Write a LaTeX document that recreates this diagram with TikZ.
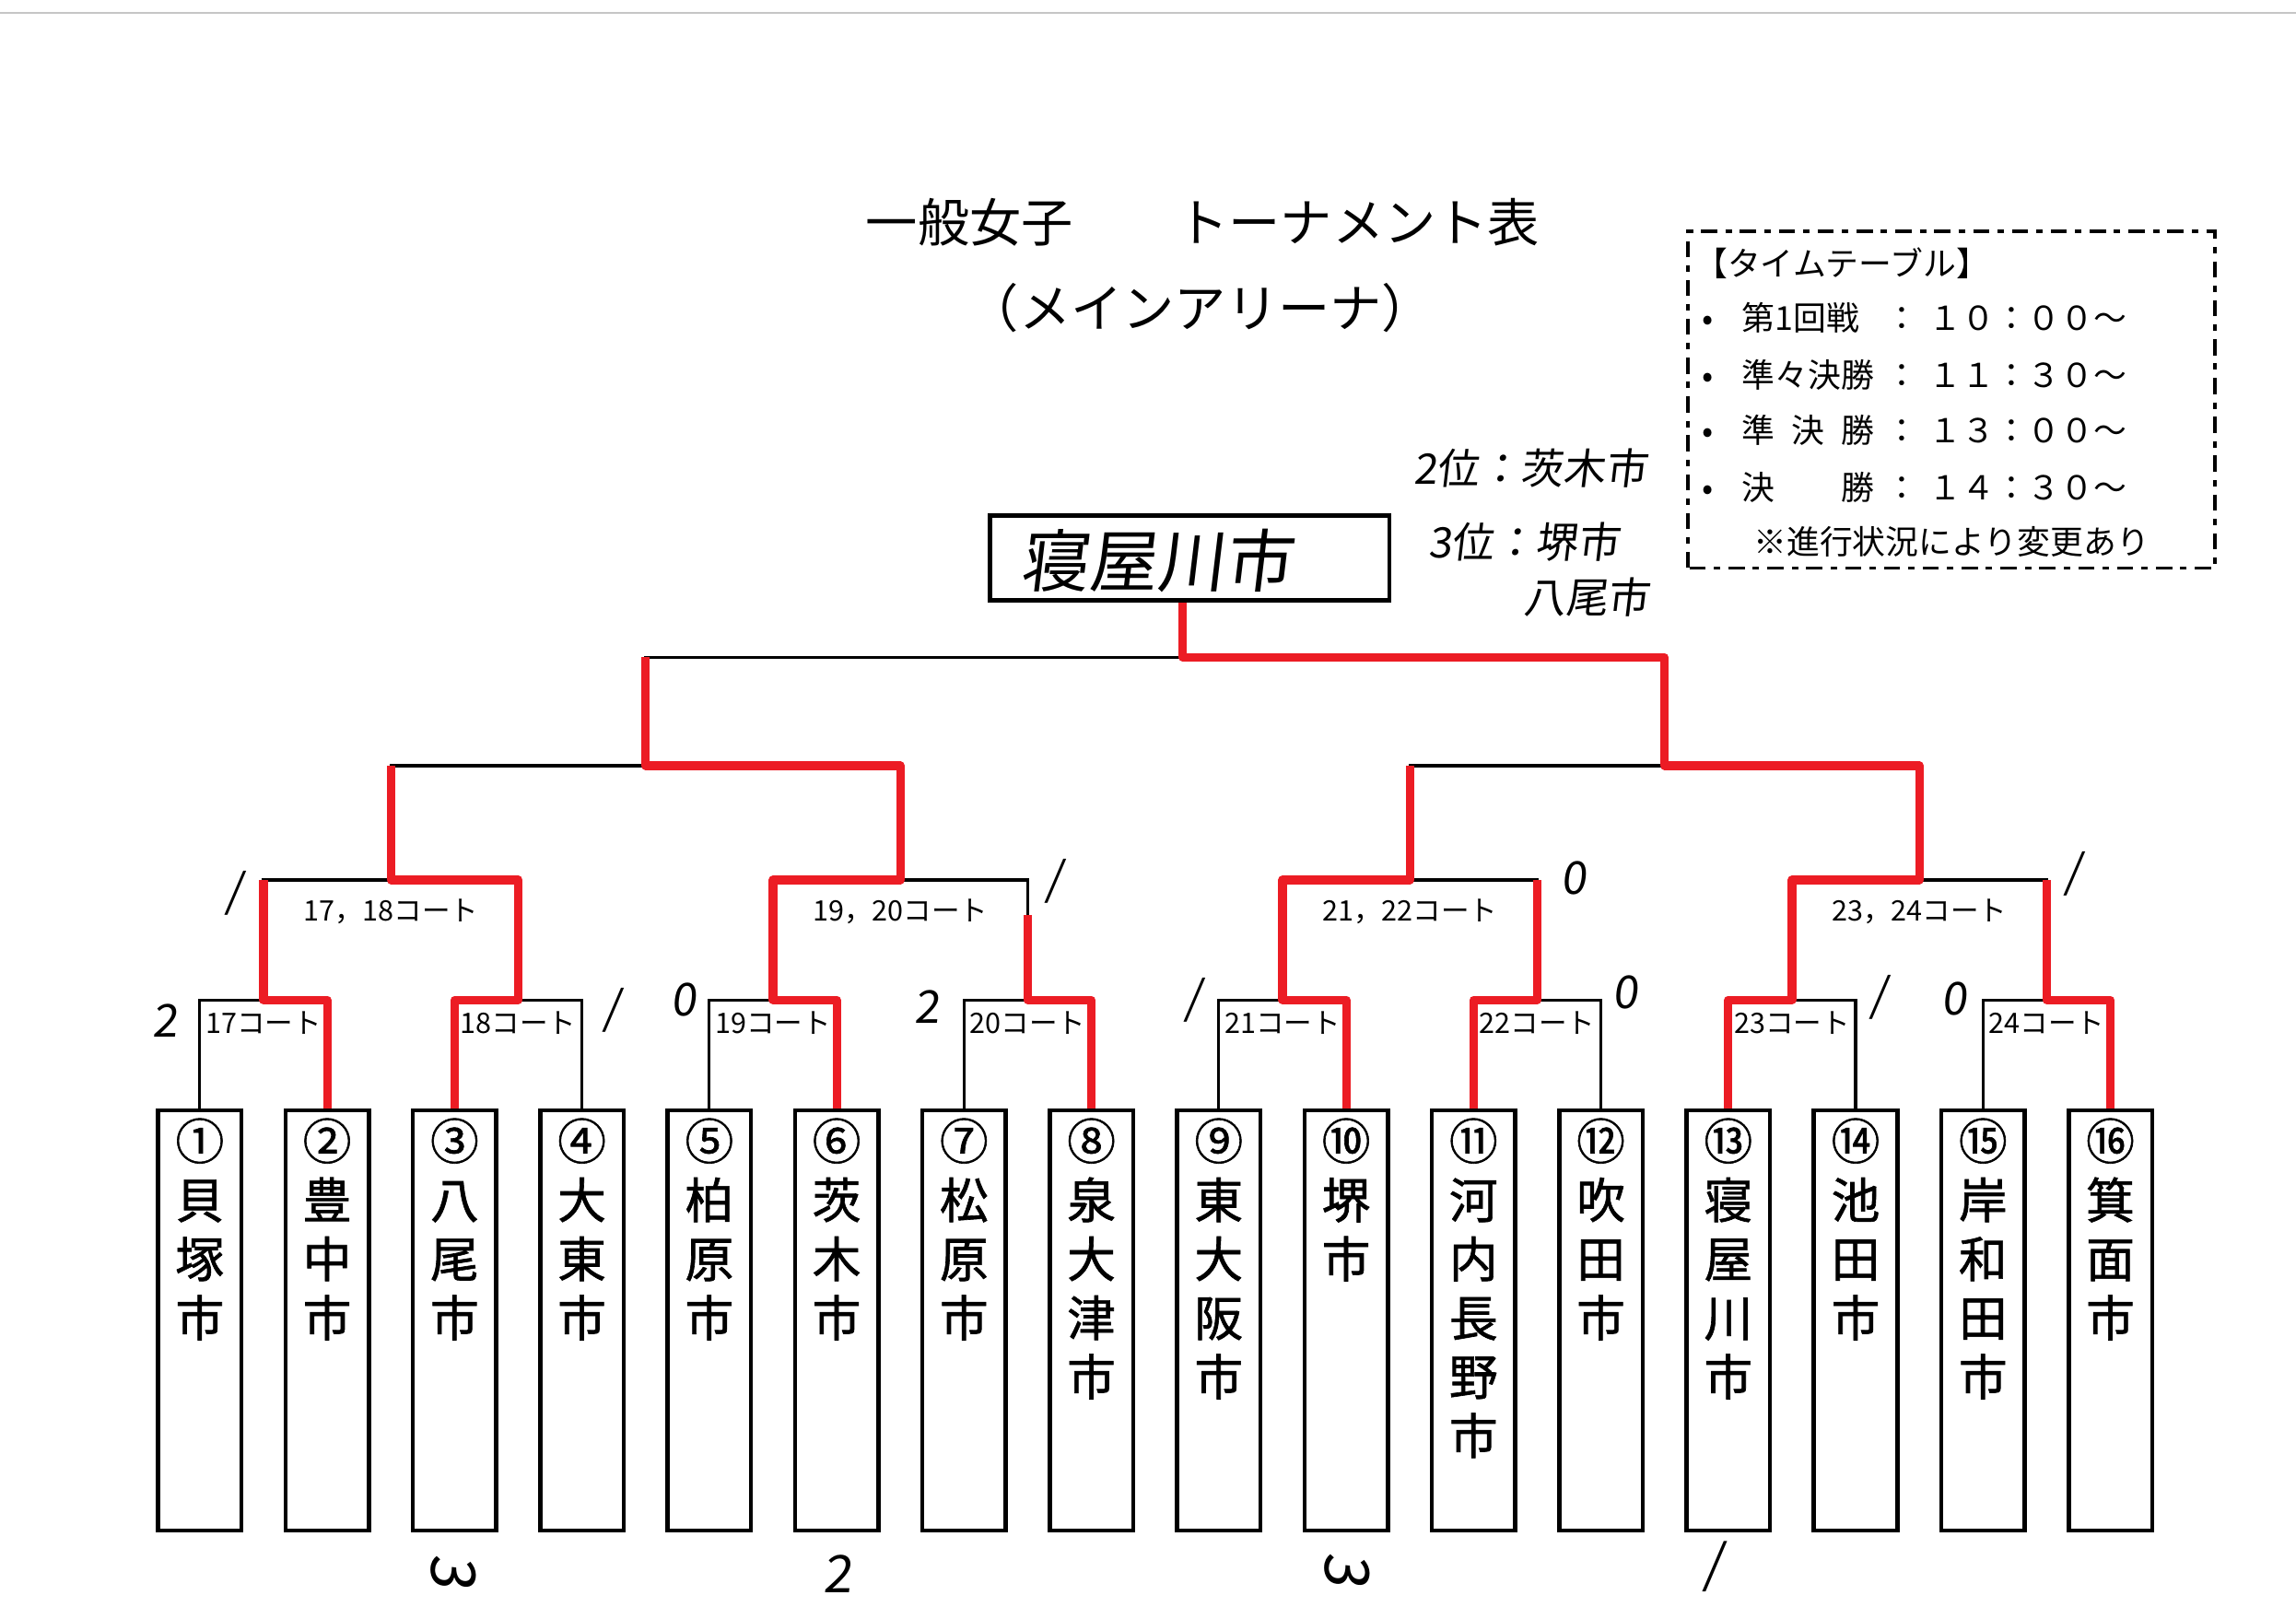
\documentclass[tikz,border=0pt]{standalone}
\usepackage{amsmath}
\usepackage{amssymb}
\usepackage{fontspec}
\setmainfont{Noto Sans CJK JP}
\newfontfamily\hand{Noto Sans CJK JP}[FakeSlant=0.12]
\newfontfamily\teamfont{Noto Sans CJK JP}[FakeBold=1.2]
\usetikzlibrary{positioning}
\definecolor{marker}{RGB}{236,28,36}

\tikzset{
    team/.style={draw, line width=1.3pt, minimum width=0.906cm, minimum height=4.56cm, anchor=north, inner sep=0pt},
    tname/.style={anchor=north, align=center, inner sep=0pt, yshift=-0.1cm, font=\teamfont\fontsize{15}{18.2}\selectfont},
    court/.style={inner sep=0pt, font=\fontsize{8.7}{9}\selectfont},
    score/.style={inner sep=0pt, font=\hand\fontsize{14}{14}\selectfont},
    hw/.style={inner sep=0pt, font=\hand\fontsize{13}{13}\selectfont},
    tt/.style={anchor=west, inner sep=0pt, font=\fontsize{10.2}{12}\selectfont},
    bline/.style={line width=0.9pt},
    win/.style={draw=marker, line width=2.6pt, line join=round, xshift=1.6pt, yshift=1.9pt},
}

\begin{document}
\begin{tikzpicture}
 %   \coordinate (final) at (12.839,10.295);
    \path[fill=white, use as bounding box] (0,0) rectangle (24.92,17.43);
    \draw[gray!45, line width=0.6pt] (0,17.287) -- (24.92,17.287);

    \node[font=\fontsize{16}{16}\selectfont,] (title) at (13.054,15.015) {一般女子　　トーナメント表};
    \node[font=\fontsize{16}{16}\selectfont,] (arena) at (13.030,14.093) {（メインアリーナ）};

    \draw[line width=1pt, dash pattern=on 5pt off 2.5pt on 2pt off 2.5pt] (18.321,11.265) rectangle (24.042,14.919);
    \node[tt,] (tthead) at (18.385,14.570) {【タイムテーブル】};
    \node[tt,] (tt1) at (18.470,13.982) {\makebox[1.2em][l]{•}\makebox[4.35em][l]{第1回戦}：\hspace{0.3em}１０：００～};
    \node[tt,] (tt2) at (18.470,13.362) {\makebox[1.2em][l]{•}\makebox[4.35em][l]{準々決勝}：\hspace{0.3em}１１：３０～};
    \node[tt,] (tt3) at (18.470,12.758) {\makebox[1.2em][l]{•}\makebox[4em][s]{準 決 勝}\hspace{0.35em}：\hspace{0.3em}１３：００～};
    \node[tt,] (tt4) at (18.470,12.139) {\makebox[1.2em][l]{•}\makebox[4.35em][l]{決　　勝}：\hspace{0.3em}１４：３０～};
    \node[tt,anchor=center,] (ttnote) at (21.181,11.551) {※進行状況により変更あり};

    \node[draw, line width=1.3pt, minimum width=4.338cm, minimum height=0.922cm,] (champ) at (12.911,11.376) {};
    \node[inner sep=0pt, font=\hand\fontsize{21}{21}\selectfont,] (champname) at (12.553,11.344) {寝屋川市};
    \node[hw,anchor=west,] (second) at (15.334,12.345) {2位：茨木市};
    \node[hw,anchor=west,] (third) at (15.493,11.551) {3位：堺市};
    \node[hw,anchor=west,] (thirdb) at (16.526,10.947) {八尾市};

    \node[team,label={[tname]north:{①\\貝\\塚\\市}},] (1) at (2.169,5.401) {};
    \node[team,label={[tname]north:{②\\豊\\中\\市}},] (2) at (3.551,5.401) {};
    \node[team,label={[tname]north:{③\\八\\尾\\市}},] (3) at (4.934,5.401) {};
    \node[team,label={[tname]north:{④\\大\\東\\市}},] (4) at (6.316,5.401) {};
    \node[team,label={[tname]north:{⑤\\柏\\原\\市}},] (5) at (7.699,5.401) {};
    \node[team,label={[tname]north:{⑥\\茨\\木\\市}},] (6) at (9.081,5.401) {};
    \node[team,label={[tname]north:{⑦\\松\\原\\市}},] (7) at (10.463,5.401) {};
    \node[team,label={[tname]north:{⑧\\泉\\大\\津\\市}},] (8) at (11.846,5.401) {};
    \node[team,label={[tname]north:{⑨\\東\\大\\阪\\市}},] (9) at (13.228,5.401) {};
    \node[team,label={[tname]north:{⑩\\堺\\市}},] (10) at (14.611,5.401) {};
    \node[team,label={[tname]north:{⑪\\河\\内\\長\\野\\市}},] (11) at (15.993,5.401) {};
    \node[team,label={[tname]north:{⑫\\吹\\田\\市}},] (12) at (17.375,5.401) {};
    \node[team,label={[tname]north:{⑬\\寝\\屋\\川\\市}},] (13) at (18.758,5.401) {};
    \node[team,label={[tname]north:{⑭\\池\\田\\市}},] (14) at (20.140,5.401) {};
    \node[team,label={[tname]north:{⑮\\岸\\和\\田\\市}},] (15) at (21.523,5.401) {};
    \node[team,label={[tname]north:{⑯\\箕\\面\\市}},] (16) at (22.905,5.401) {};

    \coordinate (17) at (2.860,6.577);
    \coordinate (18) at (5.625,6.577);
    \coordinate (19) at (8.390,6.577);
    \coordinate (20) at (11.155,6.577);
    \coordinate (21) at (13.920,6.577);
    \coordinate (22) at (16.684,6.577);
    \coordinate (23) at (19.449,6.577);
    \coordinate (24) at (22.214,6.577);
    \coordinate (1718) at (4.2425,7.880);
    \coordinate (1920) at (9.7725,7.880);
    \coordinate (2122) at (15.302,7.880);
    \coordinate (2324) at (20.8315,7.880);
    \coordinate (semiL) at (7.0075,9.120);
    \coordinate (semiR) at (18.067,9.120);
    \coordinate (final) at (12.839,10.295);

    \draw[bline] (1.north) |- (17) -| (2.north);
    \draw[bline] (3.north) |- (18) -| (4.north);
    \draw[bline] (5.north) |- (19) -| (6.north);
    \draw[bline] (7.north) |- (20) -| (8.north);
    \draw[bline] (9.north) |- (21) -| (10.north);
    \draw[bline] (11.north) |- (22) -| (12.north);
    \draw[bline] (13.north) |- (23) -| (14.north);
    \draw[bline] (15.north) |- (24) -| (16.north);
    \draw[bline] (17) |- (1718) -| (18);
    \draw[bline] (19) |- (1920) -| (20);
    \draw[bline] (21) |- (2122) -| (22);
    \draw[bline] (23) |- (2324) -| (24);
    \draw[bline] (1718) |- (semiL) -| (1920);
    \draw[bline] (2122) |- (semiR) -| (2324);
    \draw[bline] (semiL) |- (final) -| (semiR);
    \draw[bline] (champ.south -| final) -- (final);

    \draw[win] (2.north) |- (17) -- (17 |- 1718);
    \draw[win] (3.north) |- (18) |- (1718) -- (1718 |- semiL);
    \draw[win] (6.north) |- (19) |- (1920) |- (semiL) -- (semiL |- final);
    \draw[win, shorten >=0.38cm] (8.north) |- (20) -- (20 |- 1920);
    \draw[win] (10.north) |- (21) |- (2122) -- (2122 |- semiR);
    \draw[win] (11.north) |- (22) -- (22 |- 2122);
    \draw[win] (13.north) |- (23) |- (2324) |- (semiR) |- (final) -- (champ.south -| final);
    \draw[win] (16.north) |- (24) -- (24 |- 2324);

    \node[court, below=0.12cm of 17] (c17) {17コート};
    \node[court, below=0.12cm of 18] (c18) {18コート};
    \node[court, below=0.12cm of 19] (c19) {19コート};
    \node[court, below=0.12cm of 20] (c20) {20コート};
    \node[court, below=0.12cm of 21] (c21) {21コート};
    \node[court, below=0.12cm of 22] (c22) {22コート};
    \node[court, below=0.12cm of 23] (c23) {23コート};
    \node[court, below=0.12cm of 24] (c24) {24コート};
    \node[court, below=0.2cm of 1718] (c1718) {17，18コート};
    \node[court, below=0.2cm of 1920] (c1920) {19，20コート};
    \node[court, below=0.2cm of 2122] (c2122) {21，22コート};
    \node[court, below=0.2cm of 2324] (c2324) {23，24コート};

    \node[score,] (s1) at (2.542,7.737) {/};
    \node[score,] (s2) at (1.796,6.356) {2};
    \node[score,] (s3) at (6.642,6.466) {/};
    \node[score,] (s4) at (7.421,6.577) {0};
    \node[score,] (s5) at (10.058,6.499) {2};
    \node[score,] (s6) at (11.441,7.865) {/};
    \node[score,] (s7) at (12.950,6.577) {/};
    \node[score,] (s8) at (17.082,7.896) {0};
    \node[score,] (s9) at (17.638,6.658) {0};
    \node[score,] (s10) at (20.387,6.610) {/};
    \node[score,] (s11) at (21.213,6.594) {0};
    \node[score,] (s12) at (22.500,7.944) {/};
    \node[score,rotate=-90,font=\hand\fontsize{19}{19}\selectfont,] (b1) at (4.926,0.380) {3};
    \node[score,font=\hand\fontsize{16}{16}\selectfont,] (b2) at (9.089,0.350) {2};
    \node[score,rotate=-90,font=\hand\fontsize{19}{19}\selectfont,] (b3) at (14.619,0.397) {3};
    \node[score,font=\hand\fontsize{16}{16}\selectfont,] (b4) at (18.591,0.429) {/};

   \end{tikzpicture}
\end{document}
